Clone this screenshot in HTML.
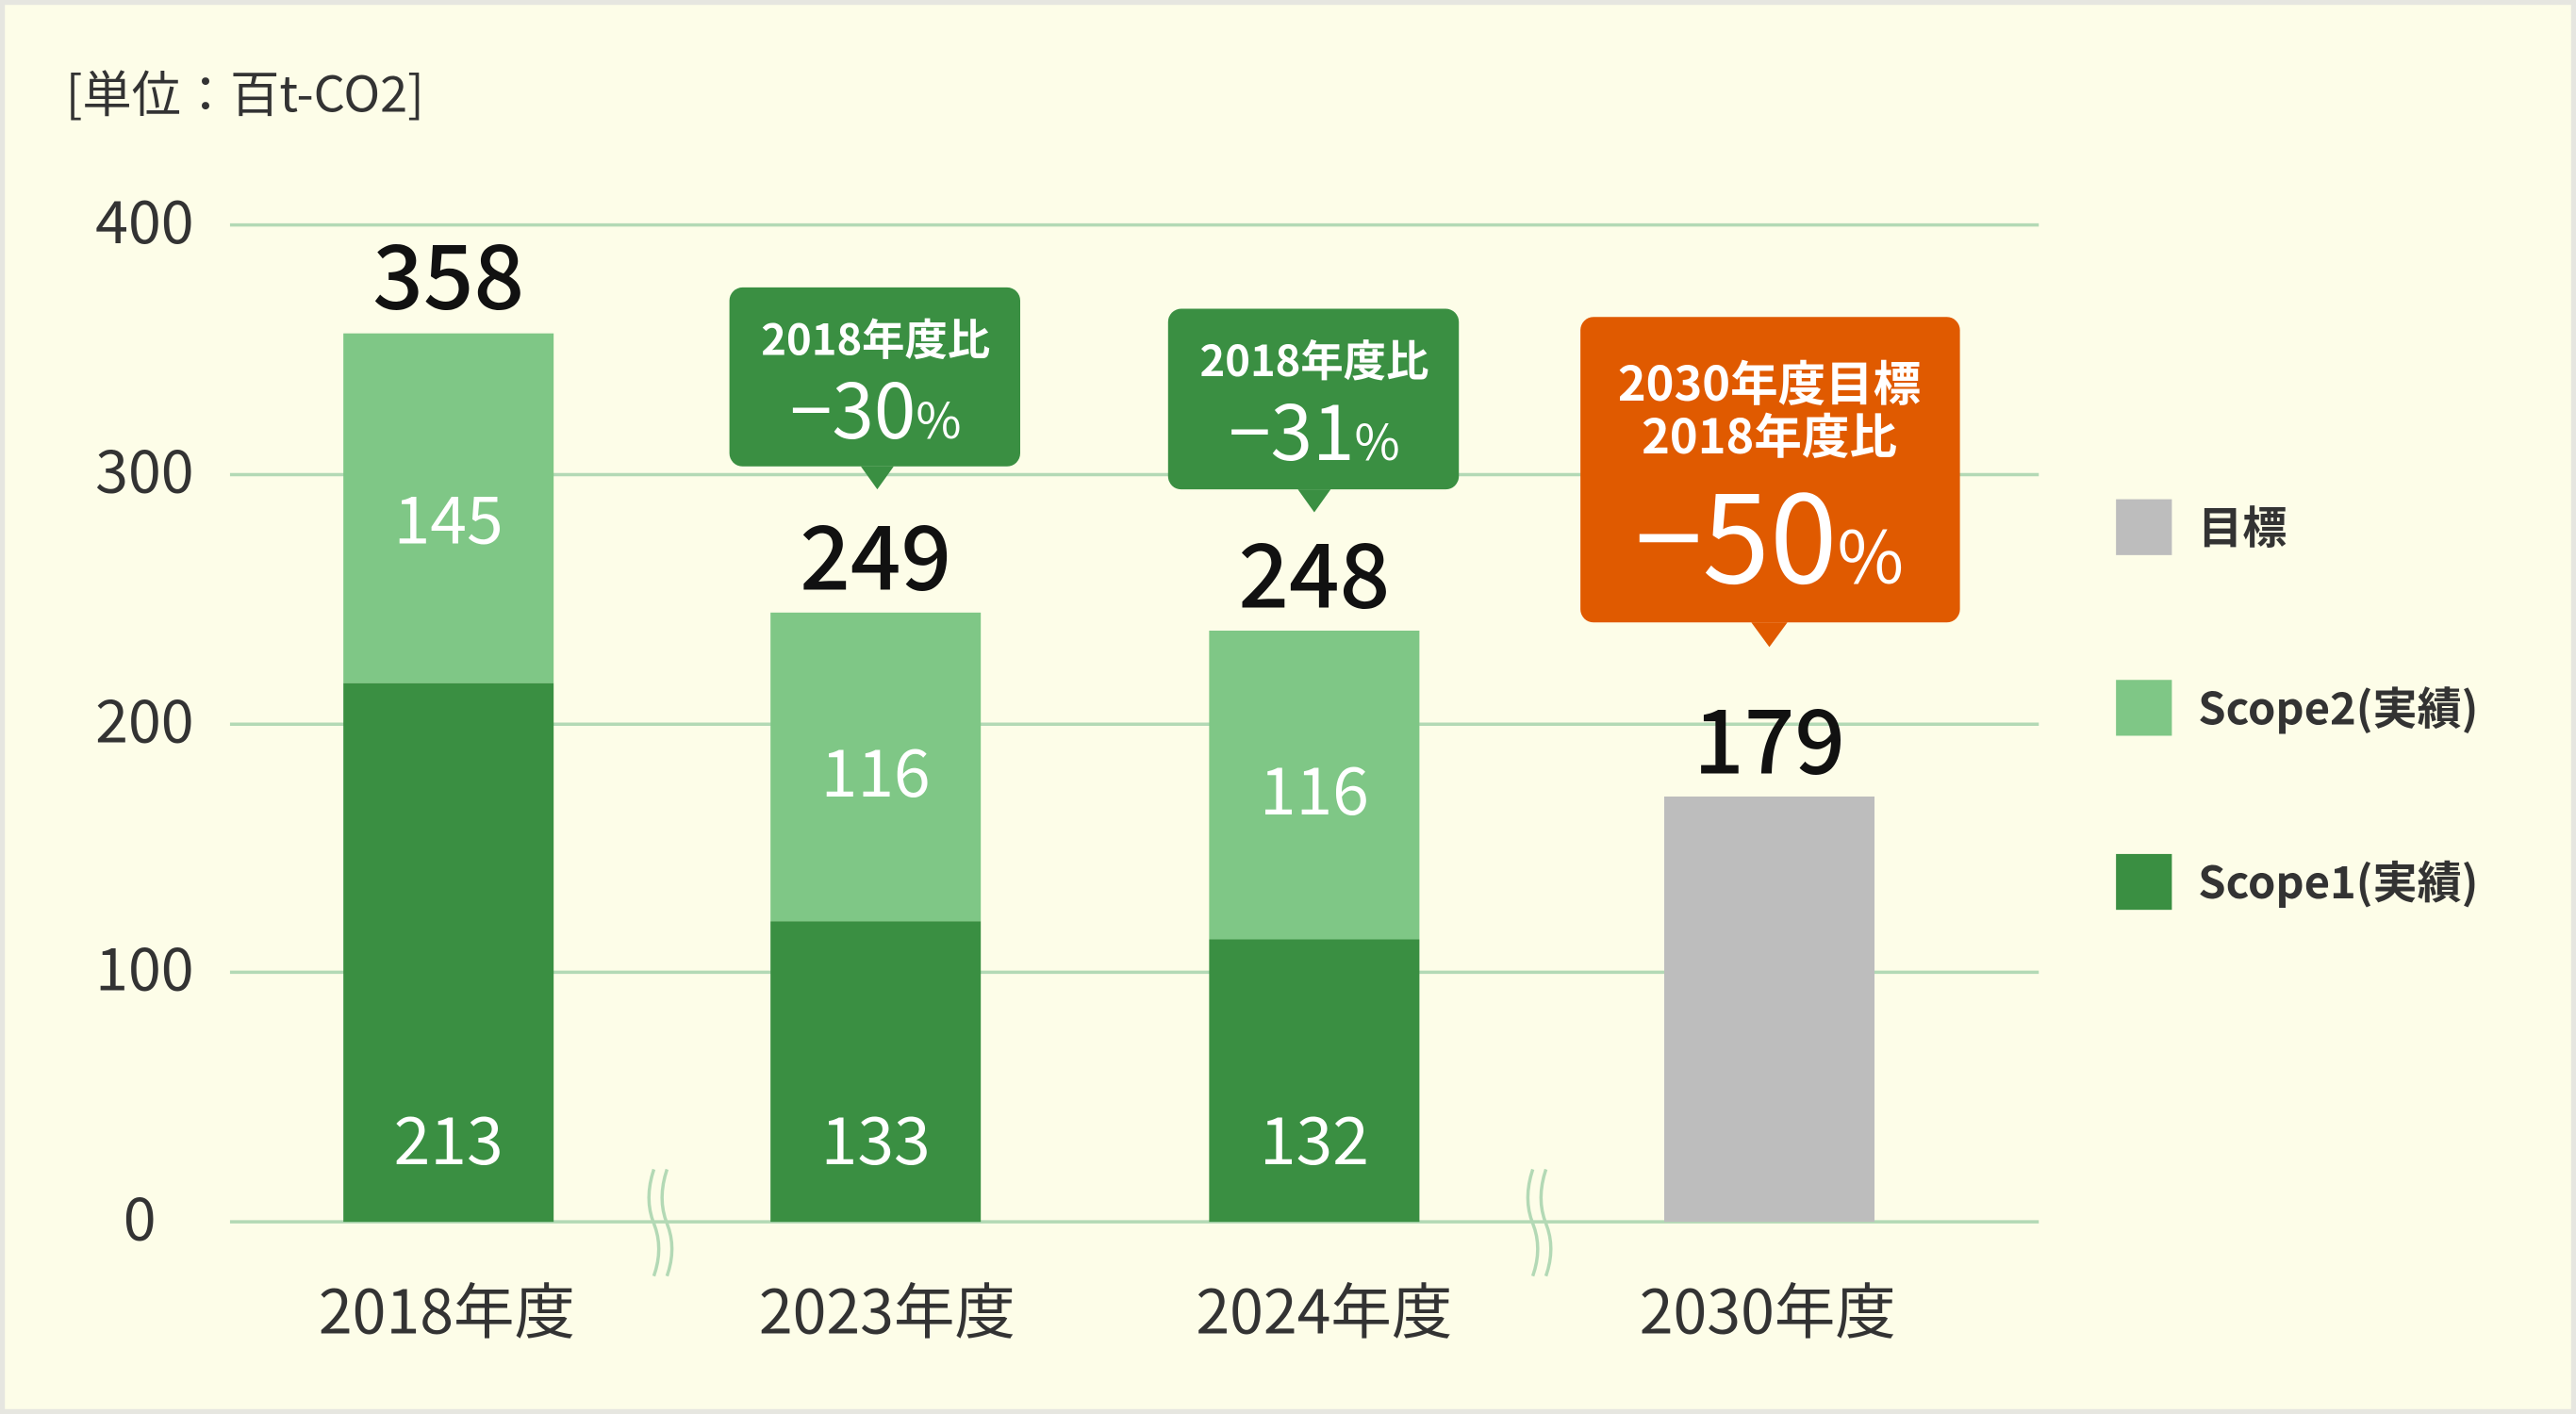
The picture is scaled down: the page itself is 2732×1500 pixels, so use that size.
<!DOCTYPE html>
<html><head><meta charset="utf-8"><style>
html,body{margin:0;padding:0;background:#fdfde8;}
svg{display:block;}
text{font-family:"Noto Sans CJK JP",sans-serif;}
</style></head><body>
<svg width="2732" height="1500" viewBox="0 0 1568 861" preserveAspectRatio="none" xmlns="http://www.w3.org/2000/svg">
<rect x="0" y="0" width="1568" height="861" fill="#e6e6e0"/>
<rect x="3" y="3" width="1562" height="855" fill="#fdfde8"/>
<text x="40" y="68" font-size="30" fill="#333">[単位：百t-CO2]</text>
<g stroke="#b3d9b5" stroke-width="2">
<line x1="140" y1="137" x2="1241" y2="137"/>
<line x1="140" y1="289" x2="1241" y2="289"/>
<line x1="140" y1="441" x2="1241" y2="441"/>
<line x1="140" y1="592" x2="1241" y2="592"/>
<line x1="140" y1="744" x2="1241" y2="744"/>
</g>
<g font-size="36" fill="#333" text-anchor="end">
<text x="118" y="148">400</text><text x="118" y="300">300</text><text x="118" y="452">200</text><text x="118" y="603">100</text><text x="95" y="755">0</text>
</g>
<rect x="209" y="203" width="128" height="213" fill="#7fc786"/>
<rect x="209" y="416" width="128" height="328" fill="#3a8f42"/>
<rect x="469" y="373" width="128" height="188" fill="#7fc786"/>
<rect x="469" y="561" width="128" height="183" fill="#3a8f42"/>
<rect x="736" y="384" width="128" height="188" fill="#7fc786"/>
<rect x="736" y="572" width="128" height="172" fill="#3a8f42"/>
<rect x="1013" y="485" width="128" height="259" fill="#bdbdbd"/>
<g font-size="40" fill="#fff" text-anchor="middle">
<text x="273" y="331">145</text><text x="273" y="709">213</text>
<text x="533" y="485">116</text><text x="533" y="709">133</text>
<text x="800" y="496">116</text><text x="800" y="709">132</text>
</g>
<g font-size="54" fill="#111" text-anchor="middle" font-weight="500">
<text x="273" y="188">358</text><text x="533" y="359">249</text><text x="800" y="370">248</text><text x="1077" y="471">179</text>
</g>
<rect x="444" y="175" width="177" height="109" rx="8" fill="#3a8f42"/>
<path d="M524 284 L544 284 L534 298 Z" fill="#3a8f42"/>
<text x="533" y="216" font-size="26" font-weight="bold" fill="#fff" text-anchor="middle">2018年度比</text>
<text x="533" y="267" font-size="46" fill="#fff" text-anchor="middle">−30<tspan font-size="30">%</tspan></text>
<rect x="711" y="188" width="177" height="110" rx="8" fill="#3a8f42"/>
<path d="M790 298 L810 298 L800 312 Z" fill="#3a8f42"/>
<text x="800" y="229" font-size="26" font-weight="bold" fill="#fff" text-anchor="middle">2018年度比</text>
<text x="800" y="280" font-size="46" fill="#fff" text-anchor="middle">−31<tspan font-size="30">%</tspan></text>
<rect x="962" y="193" width="231" height="186" rx="8" fill="#e05a00"/>
<path d="M1066 379 L1088 379 L1077 394 Z" fill="#e05a00"/>
<text x="1077" y="244" font-size="29" font-weight="bold" fill="#fff" text-anchor="middle">2030年度目標</text>
<text x="1077" y="276" font-size="29" font-weight="bold" fill="#fff" text-anchor="middle">2018年度比</text>
<text x="1077" y="355" font-size="74" fill="#fff" text-anchor="middle">−50<tspan font-size="44">%</tspan></text>
<g stroke="#b3d9b5" stroke-width="2" fill="none">
<path d="M398 712 Q392 730 398 745 Q404 760 398 777"/>
<path d="M406 712 Q400 730 406 745 Q412 760 406 777"/>
<path d="M933 712 Q927 730 933 745 Q939 760 933 777"/>
<path d="M941 712 Q935 730 941 745 Q947 760 941 777"/>
</g>
<g font-size="37" fill="#333" text-anchor="middle">
<text x="272" y="812">2018年度</text><text x="540" y="812">2023年度</text><text x="806" y="812">2024年度</text><text x="1076" y="812">2030年度</text>
</g>
<rect x="1288" y="304" width="34" height="34" fill="#bdbdbd"/>
<rect x="1288" y="414" width="34" height="34" fill="#7fc786"/>
<rect x="1288" y="520" width="34" height="34" fill="#3a8f42"/>
<g font-size="27" font-weight="bold" fill="#333">
<text x="1338" y="331">目標</text><text x="1338" y="441">Scope2(実績)</text><text x="1338" y="547">Scope1(実績)</text>
</g>
</svg>
</body></html>
